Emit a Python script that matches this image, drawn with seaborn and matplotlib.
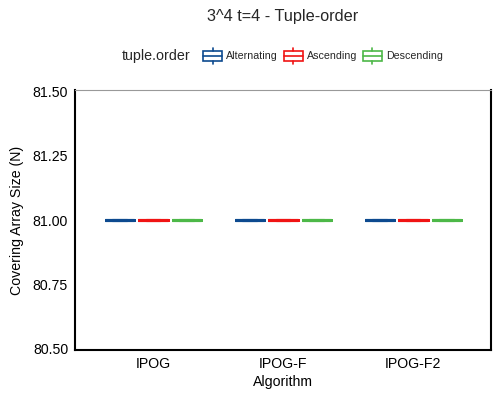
import matplotlib
matplotlib.use("Agg")
import matplotlib.pyplot as plt
import seaborn as sns
import pandas as pd
from matplotlib.legend_handler import HandlerBase
from matplotlib.patches import Rectangle
from matplotlib.lines import Line2D
from matplotlib.offsetbox import HPacker

# ---- data ----
algorithms = ["IPOG", "IPOG-F", "IPOG-F2"]
tuple_orders = ["Alternating", "Ascending", "Descending"]
alternating = [81, 81, 81]
ascending = [81, 81, 81]
descending = [81, 81, 81]
colors = ["#0D4A8F", "#F01414", "#4DB848"]
yticks = [80.50, 80.75, 81.00, 81.25, 81.50]

series = {"Alternating": alternating, "Ascending": ascending, "Descending": descending}
rows = []
for order, vals in series.items():
    for alg, v in zip(algorithms, vals):
        rows.append({"Algorithm": alg, "tuple.order": order, "N": v})
df = pd.DataFrame(rows)

sns.set_style("white")
plt.rcParams["font.family"] = ["Liberation Sans", "DejaVu Sans"]

fig = plt.figure(figsize=(5, 4), dpi=100)
ax = fig.add_axes([0.15, 0.125, 0.832, 0.65])

sns.boxplot(data=df, x="Algorithm", y="N", hue="tuple.order",
            order=algorithms, hue_order=tuple_orders, palette=colors,
            fill=False, width=0.77, gap=0.13, linewidth=2.2, ax=ax,
            legend=False)
for ln in ax.lines:
    ln.set_solid_capstyle("butt")

ax.set_xlim(-0.6, 2.6)
ax.set_ylim(80.494, 81.506)
ax.set_yticks(yticks)
ax.set_yticklabels([f"{t:.2f}" for t in yticks])
ax.set_xlabel("Algorithm", fontsize=10.2, color="black", labelpad=3)
ax.set_ylabel("Covering Array Size (N)", fontsize=10.2, color="black", labelpad=6)
ax.tick_params(axis="both", labelsize=10.2, labelcolor="black", length=3, width=0.8,
               direction="out", pad=2, color="#333333")
ax.grid(False)
for side in ["left", "bottom", "right"]:
    ax.spines[side].set_color("black")
    ax.spines[side].set_linewidth(1.5)
    ax.spines[side].set_visible(True)
ax.spines["top"].set_color("#999999")
ax.spines["top"].set_linewidth(0.8)
ax.spines["top"].set_visible(True)

fig.suptitle("3^4 t=4 - Tuple-order", x=0.566, y=0.978, fontsize=11.7, va="top")


class BoxHandler(HandlerBase):
    def __init__(self, color):
        super().__init__()
        self.color = color

    def create_artists(self, legend, orig_handle, xdescent, ydescent, width, height, fontsize, trans):
        c = self.color
        bh = height * 0.62
        by = -ydescent + (height - bh) / 2
        rect = Rectangle((-xdescent, by), width, bh, facecolor="white", edgecolor=c,
                         linewidth=1.2, transform=trans)
        mid = Line2D([-xdescent, -xdescent + width], [by + bh / 2] * 2, color=c,
                     linewidth=1.2, transform=trans)
        cx = -xdescent + width / 2
        w1 = Line2D([cx, cx], [by + bh, by + bh + height * 0.19], color=c, linewidth=1.2, transform=trans)
        w2 = Line2D([cx, cx], [by, by - height * 0.19], color=c, linewidth=1.2, transform=trans)
        return [rect, mid, w1, w2]


handles = [Rectangle((0, 0), 1, 1) for _ in tuple_orders]
handler_map = {h: BoxHandler(c) for h, c in zip(handles, colors)}
leg = fig.legend(handles, tuple_orders, handler_map=handler_map, loc="center",
                 bbox_to_anchor=(0.565, 0.86), ncol=3, frameon=False,
                 fontsize=7.7, title="tuple.order", title_fontsize=10.3,
                 handlelength=1.75, handleheight=1.8, handletextpad=0.4,
                 columnspacing=0.55, borderpad=0)
title_box = leg._legend_title_box
items = leg._legend_handle_box
leg._legend_box._children = [HPacker(pad=0, sep=9, children=[title_box, items], align="center")]

fig.savefig("out.png", dpi=100)
